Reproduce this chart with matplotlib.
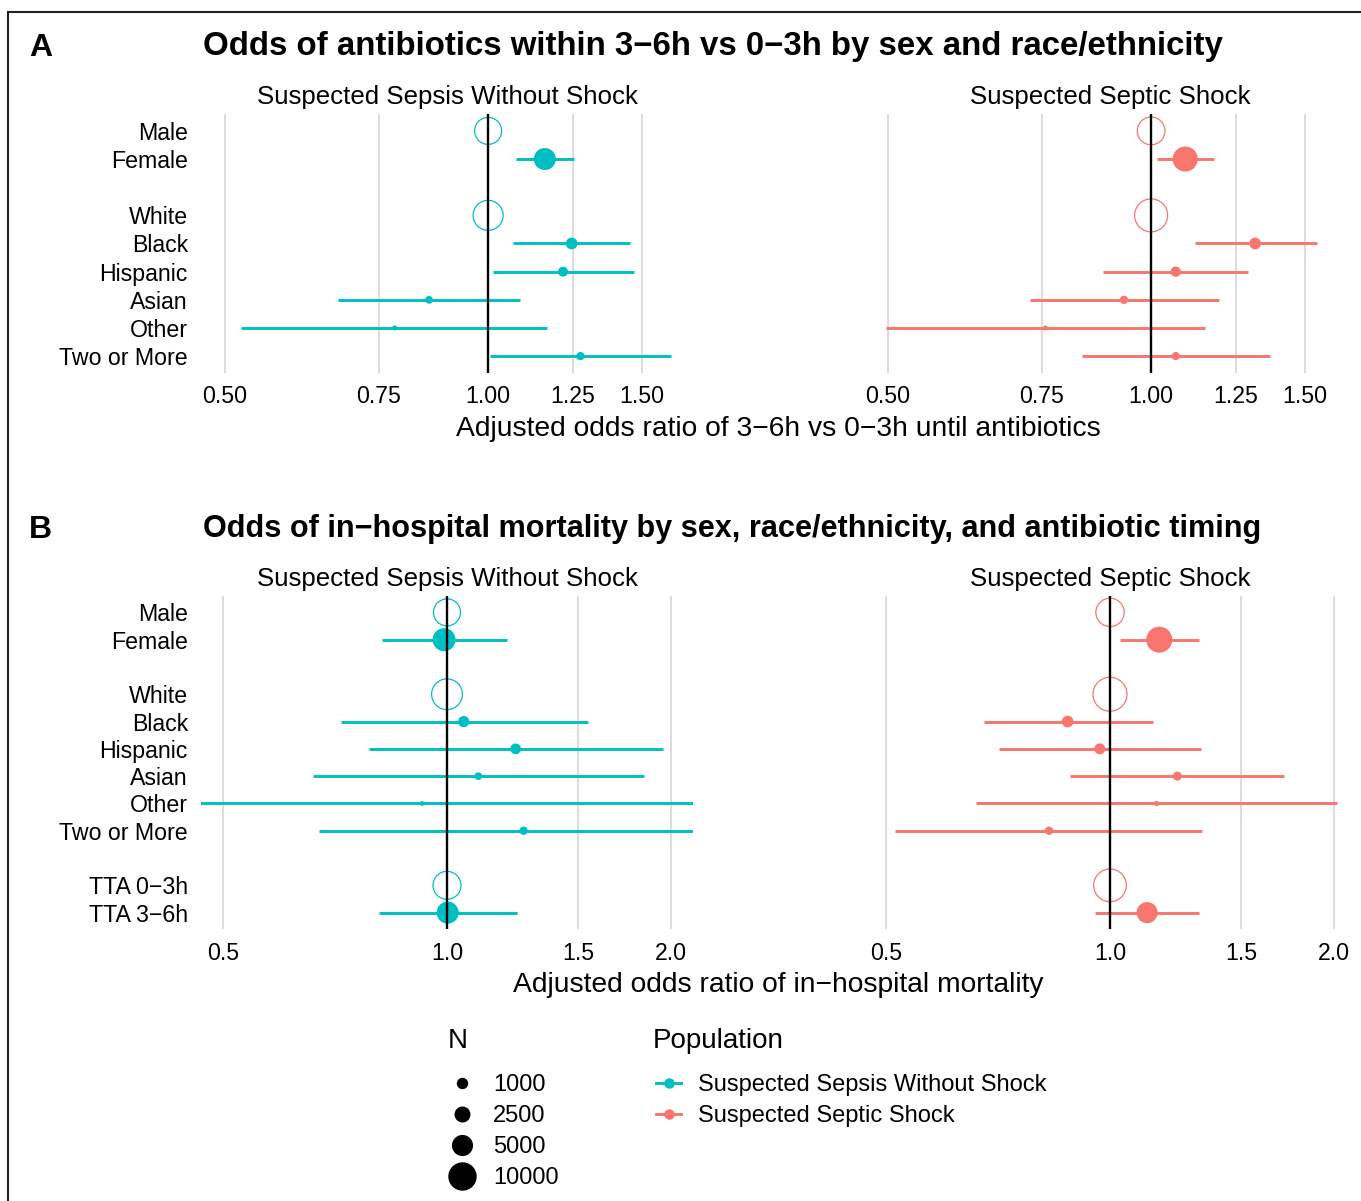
import numpy as np
import matplotlib
matplotlib.use("Agg")
import matplotlib.pyplot as plt
from matplotlib.lines import Line2D
from matplotlib.ticker import FixedLocator, FixedFormatter, NullLocator

plt.rcParams['font.family'] = ['Liberation Sans', 'DejaVu Sans']

TEAL = "#00BFC4"
SALMON = "#F8766D"
M = "\u2212"  # R renders '-' as a minus sign

# row layout, "" marks the gap between groups
rows_a = ["Male", "Female", "", "White", "Black", "Hispanic", "Asian", "Other", "Two or More"]
rows_b = rows_a + ["", f"TTA 0{M}3h", f"TTA 3{M}6h"]

nan = np.nan

# Panel A: odds of antibiotics within 3-6h vs 0-3h
terms_a = ["Male", "Female", "White", "Black", "Hispanic", "Asian", "Other", "Two or More"]
ref_a = [True, False, True, False, False, False, False, False]

a_nos_or = [1.00, 1.161, 1.00, 1.246, 1.218, 0.856, 0.782, 1.275]
a_nos_lo = [nan, 1.076, nan, 1.067, 1.014, 0.674, 0.522, 1.006]
a_nos_hi = [nan, 1.255, nan, 1.454, 1.469, 1.088, 1.169, 1.617]
a_nos_n = [10000, 6400, 12600, 1500, 1000, 520, 130, 620]

a_shk_or = [1.00, 1.094, 1.00, 1.315, 1.067, 0.931, 0.757, 1.067]
a_shk_lo = [nan, 1.016, nan, 1.121, 0.881, 0.726, 0.498, 0.833]
a_shk_hi = [nan, 1.180, nan, 1.548, 1.289, 1.196, 1.152, 1.368]
a_shk_n = [10600, 8500, 15400, 1500, 1080, 620, 130, 600]

# Panel B: odds of in-hospital mortality
terms_b = terms_a + [f"TTA 0{M}3h", f"TTA 3{M}6h"]
ref_b = ref_a + [True, False]

b_nos_or = [1.00, 0.991, 1.00, 1.053, 1.237, 1.102, 0.926, 1.268, 1.00, 1.002]
b_nos_lo = [nan, 0.817, nan, 0.720, 0.786, 0.661, 0.45, 0.672, nan, 0.810]
b_nos_hi = [nan, 1.203, nan, 1.547, 1.953, 1.843, 2.25, 2.25, nan, 1.243]
b_nos_n = [10000, 7000, 13300, 1350, 1200, 500, 110, 620, 10800, 6400]

b_shk_or = [1.00, 1.165, 1.00, 0.877, 0.969, 1.232, 1.155, 0.828, 1.00, 1.122]
b_shk_lo = [nan, 1.031, nan, 0.676, 0.709, 0.884, 0.661, 0.514, nan, 0.956]
b_shk_hi = [nan, 1.316, nan, 1.141, 1.325, 1.716, 2.019, 1.330, nan, 1.319]
b_shk_n = [11100, 9200, 16400, 1500, 1270, 760, 150, 620, 15100, 5800]

ticks_a = [0.50, 0.75, 1.00, 1.25, 1.50]
ticklabels_a = ["0.50", "0.75", "1.00", "1.25", "1.50"]
ticks_b = [0.5, 1.0, 1.5, 2.0]
ticklabels_b = ["0.5", "1.0", "1.5", "2.0"]

populations = ["Suspected Sepsis Without Shock", "Suspected Septic Shock"]
size_breaks = [1000, 2500, 5000, 10000]

W, H = 1361, 1201


def box(l, t, r, b):
    return [l / W, 1 - b / H, (r - l) / W, (b - t) / H]


def diam_pt(n):
    # marker diameter (pt) scaled by sqrt of N
    return (2.14 + 0.2485 * np.sqrt(np.asarray(n, dtype=float))) * 0.72


def expand(lo, hi, mult=0.05):
    a, b = np.log(lo), np.log(hi)
    d = (b - a) * mult
    return np.exp(a - d), np.exp(b + d)


def draw_panel(ax, rows, terms, ref, orr, lo, hi, n, color, xlim, ticks, labels, show_y, title):
    y = np.array([rows.index(t) for t in terms])
    ref = np.array(ref)
    orr, lo, hi = np.array(orr), np.array(lo), np.array(hi)
    s = diam_pt(n) ** 2
    ax.hlines(y[~ref], lo[~ref], hi[~ref], color=color, lw=2.1, zorder=2)
    ax.scatter(orr[~ref], y[~ref], s=s[~ref], color=color, edgecolors='none', zorder=3)
    ax.scatter(orr[ref], y[ref], s=s[ref], facecolors='none', edgecolors=color,
               linewidths=0.9, zorder=3)
    ax.axvline(1, color='black', lw=1.7, zorder=4)

    ax.set_xscale('log')
    ax.set_xlim(xlim)
    ax.xaxis.set_major_locator(FixedLocator(ticks))
    ax.xaxis.set_major_formatter(FixedFormatter(labels))
    ax.xaxis.set_minor_locator(NullLocator())
    ax.grid(axis='x', which='major', color='#D9D9D9', lw=1.3)
    ax.set_axisbelow(True)

    ax.set_ylim(len(rows) - 1 + 0.6, -0.6)
    keep = [i for i, r in enumerate(rows) if r]
    ax.set_yticks(keep)
    ax.set_yticklabels([rows[i] for i in keep] if show_y else [])
    for sp in ax.spines.values():
        sp.set_visible(False)
    ax.tick_params(axis='x', length=0, pad=9.0, labelsize=16.7)
    ax.tick_params(axis='y', length=0, pad=9.4, labelsize=16.7)
    ax.set_title(title, fontsize=18.6, pad=7.2)


fig = plt.figure(figsize=(W / 100, H / 100), dpi=100)

# panel A
lo_all = np.nanmin(a_nos_lo + a_shk_lo)
hi_all = np.nanmax(a_nos_hi + a_shk_hi)
xlim_a = expand(lo_all, hi_all)
ax1 = fig.add_axes(box(201, 114, 693, 373))
ax2 = fig.add_axes(box(864, 114, 1356, 373))
draw_panel(ax1, rows_a, terms_a, ref_a, a_nos_or, a_nos_lo, a_nos_hi, a_nos_n, TEAL,
           xlim_a, ticks_a, ticklabels_a, True, populations[0])
draw_panel(ax2, rows_a, terms_a, ref_a, a_shk_or, a_shk_lo, a_shk_hi, a_shk_n, SALMON,
           xlim_a, ticks_a, ticklabels_a, False, populations[1])

# panel B (coord limits 0.5 - 2)
xlim_b = expand(0.5, 2.0)
ax3 = fig.add_axes(box(201, 596, 693, 929))
ax4 = fig.add_axes(box(864, 596, 1356, 929))
draw_panel(ax3, rows_b, terms_b, ref_b, b_nos_or, b_nos_lo, b_nos_hi, b_nos_n, TEAL,
           xlim_b, ticks_b, ticklabels_b, True, populations[0])
draw_panel(ax4, rows_b, terms_b, ref_b, b_shk_or, b_shk_lo, b_shk_hi, b_shk_n, SALMON,
           xlim_b, ticks_b, ticklabels_b, False, populations[1])

# titles and axis titles
fig.text(29 / W, 1 - 55.5 / H, "A", fontsize=23, fontweight='bold', va='baseline')
fig.text(203 / W, 1 - 55.5 / H,
         f"Odds of antibiotics within 3{M}6h vs 0{M}3h by sex and race/ethnicity",
         fontsize=23.8, fontweight='bold', va='baseline')
fig.text(778.5 / W, 1 - 435.5 / H,
         f"Adjusted odds ratio of 3{M}6h vs 0{M}3h until antibiotics",
         fontsize=20.3, ha='center', va='baseline')

fig.text(29 / W, 1 - 538 / H, "B", fontsize=23, fontweight='bold', va='baseline')
fig.text(203 / W, 1 - 537 / H,
         f"Odds of in{M}hospital mortality by sex, race/ethnicity, and antibiotic timing",
         fontsize=22.1, fontweight='bold', va='baseline')
fig.text(778.5 / W, 1 - 991.5 / H,
         f"Adjusted odds ratio of in{M}hospital mortality",
         fontsize=20.3, ha='center', va='baseline')

# frame around the figure (top and left edges)
fig.add_artist(Line2D([7.5 / W, 1], [1 - 11.5 / H, 1 - 11.5 / H],
                      transform=fig.transFigure, color='#222222', lw=1.5))
fig.add_artist(Line2D([7.5 / W, 7.5 / W], [0, 1 - 11.5 / H],
                      transform=fig.transFigure, color='#222222', lw=1.5))

# legends
fig.text(448 / W, 1 - 1041 / H, "N", fontsize=20, va='center')
fig.text(653 / W, 1 - 1041 / H, "Population", fontsize=20, va='center')

size_handles = [Line2D([], [], ls='', marker='o', color='black', markersize=diam_pt(v))
                for v in size_breaks]
fig.legend(size_handles, [str(v) for v in size_breaks], loc='upper left',
           bbox_to_anchor=(448 / W, 1 - 1074 / H), frameon=False, fontsize=17,
           handlelength=1.19, handletextpad=0.72, labelspacing=0.385,
           borderpad=0, borderaxespad=0)

pop_handles = [Line2D([], [], color=c, lw=2.1, marker='o', markersize=6.5)
               for c in (TEAL, SALMON)]
fig.legend(pop_handles, populations, loc='upper left',
           bbox_to_anchor=(656 / W, 1 - 1074 / H), frameon=False, fontsize=17,
           handlelength=1.06, handletextpad=0.72, labelspacing=0.385,
           borderpad=0, borderaxespad=0)

fig.savefig("out.png", dpi=100)
